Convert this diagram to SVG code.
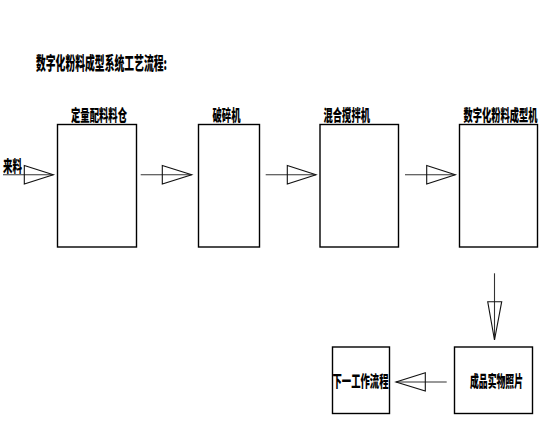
<svg xmlns="http://www.w3.org/2000/svg" width="550" height="439" viewBox="0 0 550 439">
<style>
.box{fill:#fff;stroke:#000;stroke-width:1.4}
.ln{stroke:#333;stroke-width:1.1;fill:none}
.hd{stroke:#111;stroke-width:1.1;fill:none}
text{font-family:"Noto Sans CJK SC","Noto Sans",sans-serif;font-weight:900;font-size:9.3px;fill:#000}
.t{font-size:9.8px}
</style>
<rect width="550" height="439" fill="#fff"/>
<text class="t" transform="translate(36,69.5) scale(1,1.8)" textLength="131" lengthAdjust="spacingAndGlyphs">数字化粉料成型系统工艺流程:</text>
<g id="n1"><rect class="box" x="57.5" y="124.5" width="79" height="122.5"/><text transform="translate(71,121) scale(1,1.7)" textLength="56" lengthAdjust="spacingAndGlyphs">定量配料料仓</text></g>
<g id="n2"><rect class="box" x="198.5" y="124.5" width="61" height="122.5"/><text transform="translate(212.5,121) scale(1,1.7)" textLength="28" lengthAdjust="spacingAndGlyphs">破碎机</text></g>
<g id="n3"><rect class="box" x="320" y="124.5" width="78.5" height="122.5"/><text transform="translate(323.5,121) scale(1,1.7)" textLength="46.5" lengthAdjust="spacingAndGlyphs">混合搅拌机</text></g>
<g id="n4"><rect class="box" x="459.5" y="124.5" width="78" height="122.5"/><text transform="translate(463.5,121) scale(1,1.7)" textLength="74" lengthAdjust="spacingAndGlyphs">数字化粉料成型机</text></g>
<g id="n5"><rect class="box" x="454.5" y="347" width="78" height="66.5"/><text transform="translate(470,387) scale(1,1.7)" textLength="53" lengthAdjust="spacingAndGlyphs">成品实物照片</text></g>
<g id="n6"><rect class="box" x="332.5" y="347" width="57" height="66.5"/><text transform="translate(332.5,387) scale(1,1.7)" textLength="56" lengthAdjust="spacingAndGlyphs">下一工作流程</text></g>
<g id="in"><text transform="translate(3,171.5) scale(1,1.7)" textLength="19" lengthAdjust="spacingAndGlyphs">来料</text></g>
<g id="connectors">
<line class="ln" x1="3" y1="174.7" x2="53.3" y2="174.7"/>
<polygon class="hd" points="24.3,165.5 53.3,174.7 24.3,184"/>
<line class="ln" x1="140.7" y1="174.7" x2="191.7" y2="174.7"/>
<polygon class="hd" points="162.3,165.5 191.7,174.7 162.3,184"/>
<line class="ln" x1="265.7" y1="174.7" x2="316" y2="174.7"/>
<polygon class="hd" points="287.3,165.5 316,174.7 287.3,184"/>
<line class="ln" x1="405" y1="174.7" x2="455.3" y2="174.7"/>
<polygon class="hd" points="426.7,165.5 455.3,174.7 426.7,184"/>
<line class="ln" x1="494.5" y1="273.3" x2="494.5" y2="340"/>
<polygon class="hd" points="487.7,301.7 494.5,340 501.7,301.7"/>
<line class="ln" x1="446.7" y1="382" x2="396" y2="382"/>
<polygon class="hd" points="425.3,372.7 396,382 425.3,391"/>
</g>
</svg>
